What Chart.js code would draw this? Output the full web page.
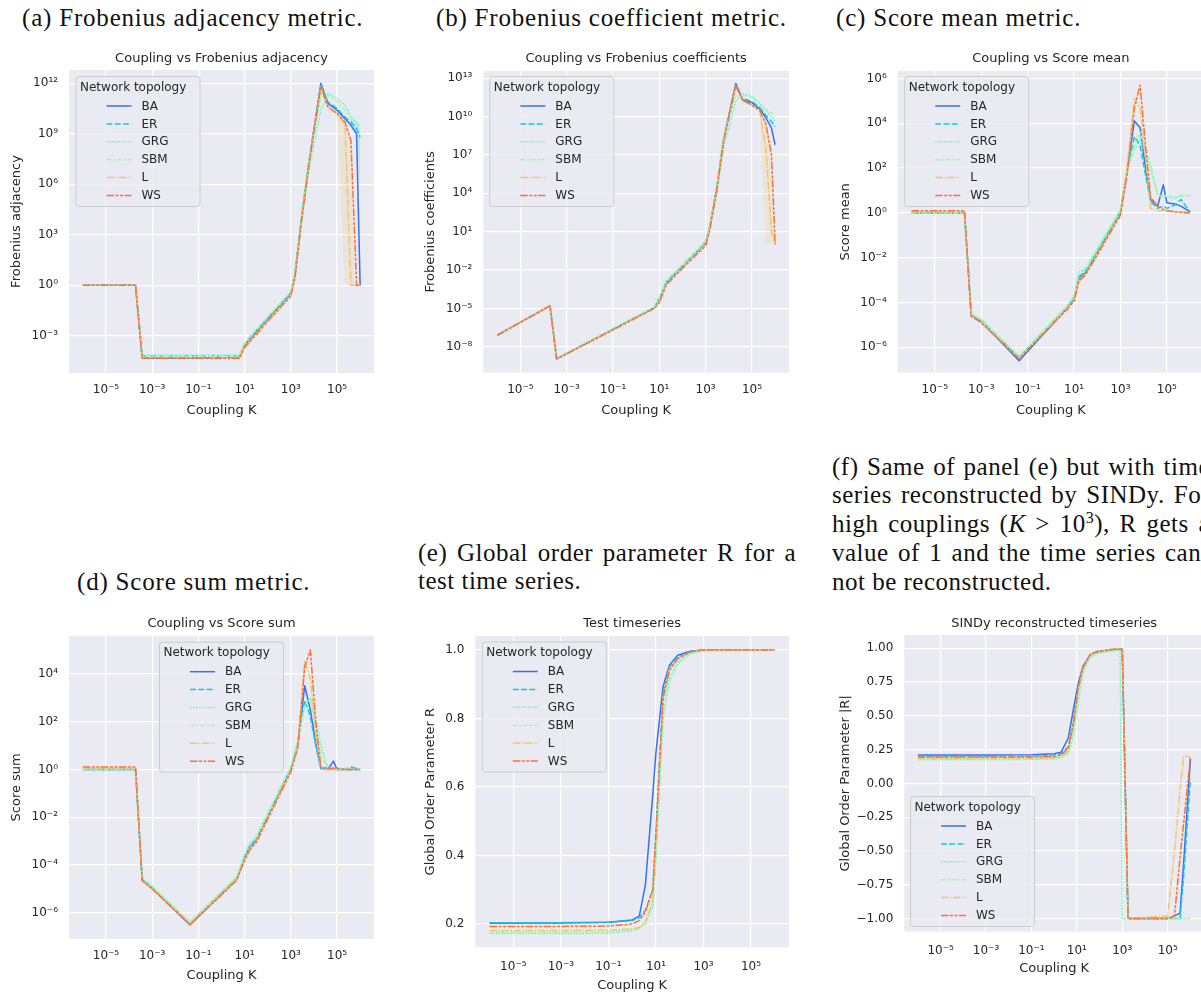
<!DOCTYPE html>
<html>
<head>
<meta charset="utf-8">
<script src="https://cdn.jsdelivr.net/npm/chart.js@4.4.1/dist/chart.umd.min.js"></script>
<style>
  html, body { margin: 0; padding: 0; background: #fff; }
  body { position: relative; width: 1201px; height: 992px; overflow: hidden; }
  canvas { position: absolute; }
  .cap { position: absolute; font-family: "Liberation Serif", serif; font-size: 25px; letter-spacing: 0.8px; line-height: 28.8px; color: #111; white-space: nowrap; }
  .just { display: inline-block; letter-spacing: 0.5px; }
  .cap i { font-style: italic; }
  .cap sup { font-size: 16px; line-height: 0; vertical-align: 9px; }
</style>
</head>
<body>
<div class="cap" style="left:22px; top:3.6px">(a) Frobenius adjacency metric.</div>
<div class="cap" style="left:436px; top:3.6px">(b) Frobenius coefficient metric.</div>
<div class="cap" style="left:836px; top:3.6px">(c) Score mean metric.</div>
<div class="cap just" style="left:832px; top:452.6px">(f) Same of panel (e) but with time</div>
<div class="cap just" style="left:832px; top:481.4px">series reconstructed by SINDy. For</div>
<div class="cap just" style="left:832px; top:510.2px">high couplings (<i>K</i> &gt; 10<sup>3</sup>), R gets a</div>
<div class="cap just" style="left:832px; top:539px">value of 1 and the time series can-</div>
<div class="cap" style="left:832px; top:567.8px; letter-spacing:0.5px">not be reconstructed.</div>
<div class="cap just" style="left:418px; top:538.6px">(e) Global order parameter R for a</div>
<div class="cap" style="left:418px; top:567.4px; letter-spacing:0.5px">test time series.</div>
<div class="cap" style="left:77px; top:567.6px">(d) Score sum metric.</div>

<script>
const INK = '#262626';
const FACE = '#eaeaf2';
const CAPTION_WIDTH = 378;

const SERIES = ['BA', 'ER', 'GRG', 'SBM', 'L', 'WS'];
const COLORS = ['#376ff9', '#12c7e6', '#5bf9c7', '#a4f99f', '#edc76f', '#ff6f39'];
const DASHES = [[], [6, 2.25], [1.5, 1.5], [4.5, 1.9, 2.25, 1.9], [7.5, 1.5, 1.5, 1.5], [7.5, 1.5, 3, 1.5, 3, 1.5]];

// coupling values (x) per group of runs
const kFrob = [1e-6, 1.9e-4, 3.7e-4, 6, 10, 20, 100, 1000, 1500, 3000, 6000, 2e4, 4e4, 1e5, 2.2e5, 4e5, 7e5, 1e6];
const kScore = [1e-6, 1.9e-4, 3.7e-4, 1e-3, 4.3e-2, 4.5, 10, 16, 32, 1000, 2000, 4000, 7000, 1.2e4, 2e4, 4e4, 7e4, 1e5, 2.2e5, 4e5, 1e6];
const kTest = [1e-6, 1e-3, 0.1, 1, 2, 3.6, 7.4, 10, 20, 37, 83, 300, 1000, 1e6];
const kSindy = [1e-6, 1e-3, 0.1, 1, 2, 4.2, 7, 11.5, 19, 38, 74, 290, 800, 1000, 1800, 1e5, 2e5, 3.5e5, 5e5, 1e6];

// log10 of the Frobenius norm of the adjacency error, rows BA ER GRG SBM L WS
const adjLog = [
  [0, 0, -4.35, -4.3, -3.6, -3.1, -2.0, -0.5, 0.6, 4.1, 7.2, 12.0, 10.8, 10.4, 9.9, 9.5, 9.0, 0],
  [0, 0, -4.2, -4.2, -3.5, -3.0, -1.95, -0.45, 0.7, 4.2, 7.3, 11.9, 10.9, 10.5, 10.0, 9.7, 9.3, 8.8],
  [0, 0, -4.15, -4.15, -3.45, -2.95, -1.9, -0.4, 0.6, 3.9, 6.8, 10.4, 11.4, 11.1, 10.7, 10.0, 9.7, 9.5],
  [0, 0, -4.2, -4.2, -3.5, -3.0, -1.9, -0.4, 0.7, 4.3, 7.5, 11.2, 11.3, 10.9, 10.4, 9.9, 9.6, 9.3],
  [0, 0, -4.3, -4.3, -3.65, -3.2, -2.1, -0.6, 0.5, 4.0, 7.2, 11.8, 10.6, 10.2, 9.5, 0, 0, 0],
  [0, 0, -4.35, -4.35, -3.7, -3.25, -2.15, -0.65, 0.4, 4.0, 7.1, 11.8, 10.6, 10.2, 9.7, 8.6, 0, 0],
];
const adjBands = [
  { series: 'L', k: [1e5, 2.2e5, 4e5, 5.5e5], lo: [10.0, 0, 0, 0], hi: [10.3, 9.8, 8.8, 0] },
  { series: 'ER', k: [4e5, 7e5, 1e6], lo: [9.5, 8.9, 6.0], hi: [9.9, 9.6, 9.3] },
];

// log10 of the Frobenius norm of the coefficient error
const coefLog = [
  [-7.1, -4.8, -8.95, -4.95, -4.3, -3.0, -1.7, 0.1, 1.3, 4.3, 8.2, 12.6, 11.3, 11.1, 10.6, 9.9, 9.1, 7.8],
  [-7.1, -4.8, -8.95, -4.95, -4.25, -2.9, -1.65, 0.2, 1.4, 4.4, 8.3, 12.5, 11.4, 11.2, 10.7, 10.1, 9.6, 9.2],
  [-7.1, -4.8, -8.9, -4.9, -4.1, -2.85, -1.6, 0.2, 1.3, 4.0, 7.6, 11.2, 11.8, 11.6, 11.0, 10.5, 10.0, 9.6],
  [-7.1, -4.8, -8.9, -4.9, -4.2, -2.9, -1.65, 0.2, 1.4, 4.5, 8.5, 11.6, 11.7, 11.5, 11.0, 10.6, 10.3, 10.2],
  [-7.1, -4.8, -8.95, -5.0, -4.5, -3.1, -1.8, 0.0, 1.2, 4.2, 8.1, 12.4, 11.2, 10.9, 10.4, 7.5, 1.0, 0.1],
  [-7.1, -4.8, -8.95, -5.0, -4.55, -3.15, -1.85, -0.1, 1.1, 4.2, 8.1, 12.4, 11.3, 10.9, 10.5, 9.4, 7.0, 0.0],
];
const coefBands = [
  { series: 'L', k: [2.2e5, 3e5, 4e5, 7e5, 1e6], lo: [10.2, 5, 0.1, 0.1, 0.1], hi: [10.5, 10.1, 9.6, 8, 0.5] },
];

// log10 of the mean score
const meanLog = [
  [0, 0, -4.6, -4.85, -6.6, -4.3, -3.85, -2.95, -2.65, 0.0, 2.0, 4.1, 3.8, 2.0, 0.6, 0.3, 1.25, 0.45, 0.4, 0.3, 0.05],
  [0, 0, -4.55, -4.8, -6.45, -4.25, -3.8, -2.85, -2.6, 0.05, 2.0, 3.4, 3.0, 1.7, 0.5, 0.2, 0.3, 0.2, 0.35, 0.6, 0.05],
  [0, 0, -4.5, -4.75, -6.4, -4.2, -3.7, -2.65, -2.45, 0.15, 2.0, 2.8, 3.3, 2.6, 1.9, 0.8, 0.75, 0.7, 0.65, 0.75, 0.8],
  [0, 0, -4.5, -4.75, -6.45, -4.2, -3.75, -2.75, -2.5, 0.1, 2.0, 3.0, 3.6, 2.8, 2.2, 0.8, 0.7, 0.8, 0.7, 0.8, 0.75],
  [0.05, 0.05, -4.6, -4.85, -6.5, -4.3, -3.9, -3.0, -2.7, -0.05, 2.2, 5.1, 4.7, 2.5, 0.2, 0.1, 0.1, 0.1, 0.05, 0.05, 0.0],
  [0.1, 0.1, -4.6, -4.9, -6.5, -4.35, -3.95, -3.05, -2.75, -0.1, 1.8, 4.7, 5.7, 3.0, 0.7, 0.3, 0.15, 0.1, 0.05, 0.02, 0.0],
];

// log10 of the summed score
const sumLog = [
  [0, 0, -4.65, -4.98, -6.5, -4.6, -3.7, -3.3, -2.95, 0.0, 1.0, 3.5, 2.5, 1.1, 0.05, 0.0, 0.35, 0.0, 0.0, 0.0, 0.0],
  [0, 0, -4.6, -4.95, -6.45, -4.55, -3.65, -3.25, -2.9, 0.05, 1.1, 2.9, 2.2, 1.0, 0.05, 0.0, 0.0, 0.0, 0.0, 0.1, 0.0],
  [0, 0, -4.55, -4.9, -6.4, -4.5, -3.55, -3.1, -2.8, 0.1, 1.2, 2.6, 3.0, 2.2, 1.0, 0.05, 0.05, 0.05, 0.05, 0.0, 0.0],
  [0, 0, -4.55, -4.9, -6.45, -4.5, -3.6, -3.15, -2.85, 0.1, 1.2, 2.7, 2.9, 1.8, 0.6, 0.05, 0.0, 0.0, 0.0, 0.0, 0.0],
  [0.05, 0.05, -4.65, -5.0, -6.45, -4.6, -3.75, -3.35, -3.0, -0.05, 1.0, 4.55, 3.8, 1.5, 0.0, 0.0, 0.0, 0.0, 0.0, 0.0, 0.0],
  [0.1, 0.1, -4.65, -5.0, -6.5, -4.65, -3.8, -3.4, -3.05, -0.1, 0.9, 4.3, 5.0, 2.0, 0.1, 0.05, 0.05, 0.05, 0.0, 0.0, 0.0],
];

// global order parameter R of the test series
const testR = [
  [0.202, 0.203, 0.205, 0.212, 0.223, 0.314, 0.58, 0.70, 0.893, 0.956, 0.985, 0.997, 1.0, 1.0],
  [0.204, 0.204, 0.205, 0.21, 0.218, 0.24, 0.30, 0.47, 0.87, 0.95, 0.98, 0.996, 1.0, 1.0],
  [0.172, 0.172, 0.173, 0.18, 0.188, 0.205, 0.25, 0.38, 0.80, 0.91, 0.96, 0.99, 0.998, 1.0],
  [0.176, 0.176, 0.177, 0.183, 0.19, 0.21, 0.26, 0.40, 0.82, 0.92, 0.965, 0.992, 0.999, 1.0],
  [0.181, 0.181, 0.182, 0.186, 0.19, 0.20, 0.27, 0.44, 0.86, 0.945, 0.975, 0.995, 1.0, 1.0],
  [0.193, 0.193, 0.194, 0.2, 0.21, 0.235, 0.30, 0.46, 0.86, 0.94, 0.975, 0.995, 1.0, 1.0],
];

// |R| of the SINDy reconstructed series
const sindyR = [
  [0.21, 0.21, 0.212, 0.22, 0.23, 0.336, 0.545, 0.74, 0.87, 0.95, 0.97, 0.985, 0.99, 0.99, -1, -1, -0.98, -0.96, -0.6, 0.18],
  [0.2, 0.2, 0.2, 0.21, 0.22, 0.27, 0.45, 0.7, 0.86, 0.95, 0.975, 0.99, 0.995, 0.995, -1, -1, -1, -1, -0.7, 0.03],
  [0.175, 0.175, 0.177, 0.18, 0.19, 0.22, 0.35, 0.6, 0.82, 0.93, 0.96, 0.98, 0.985, -1, -1, -1, -1, -1, -1, -1],
  [0.18, 0.18, 0.18, 0.185, 0.195, 0.23, 0.38, 0.65, 0.84, 0.94, 0.965, 0.98, 0.985, 0.985, -1, -1, -1, -1, -1, -1],
  [0.185, 0.185, 0.186, 0.19, 0.2, 0.24, 0.42, 0.7, 0.86, 0.95, 0.975, 0.99, 0.995, 0.995, -1, -0.98, -0.5, -0.05, 0.2, 0.2],
  [0.195, 0.195, 0.196, 0.2, 0.21, 0.26, 0.44, 0.71, 0.86, 0.95, 0.975, 0.99, 0.995, 0.995, -1, -1, -0.98, -0.55, -0.3, 0.19],
];

const xTicks = [1e-5, 1e-3, 1e-1, 1e1, 1e3, 1e5];

// stretch the inter-word gaps of the paragraph lines to the column width
document.querySelectorAll('.just').forEach(el => {
  const natural = el.getBoundingClientRect().width;
  const gaps = (el.textContent.match(/ /g) || []).length;
  if (gaps) el.style.wordSpacing = ((CAPTION_WIDTH - natural) / gaps) + 'px';
});

const SUP = { '-': '⁻', '0': '⁰', '1': '¹', '2': '²', '3': '³', '4': '⁴', '5': '⁵', '6': '⁶', '7': '⁷', '8': '⁸', '9': '⁹' };
const powLabel = v => '10' + String(Math.round(Math.log10(v))).split('').map(c => SUP[c]).join('');
const fixLabel = d => v => (v < 0 ? '\u2212' : '') + Math.abs(v).toFixed(d);

function withAlpha(hex, a) {
  const n = parseInt(hex.slice(1), 16);
  return `rgba(${n >> 16}, ${(n >> 8) & 255}, ${n & 255}, ${a})`;
}

Chart.defaults.font.family = "'DejaVu Sans', sans-serif";
Chart.defaults.color = INK;

// grey axes face like seaborn darkgrid
const facePlugin = {
  id: 'axesFace',
  beforeDraw(chart) {
    const { ctx, chartArea: a } = chart;
    ctx.save();
    ctx.fillStyle = FACE;
    ctx.fillRect(a.left, a.top, a.right - a.left, a.bottom - a.top);
    ctx.restore();
  }
};

// matplotlib-style legend box with a title
const topoLegend = {
  id: 'topoLegend',
  afterDatasetsDraw(chart, args, opts) {
    const { ctx, chartArea: a } = chart;
    const w = 124, h = 130;
    const x = a.left + opts.dx;
    const y = opts.fromBottom ? a.bottom - opts.dy - h : a.top + opts.dy;
    ctx.save();
    ctx.beginPath();
    ctx.roundRect(x + 0.5, y + 0.5, w, h, 3);
    ctx.fillStyle = 'rgba(234, 234, 242, 0.8)';
    ctx.fill();
    ctx.strokeStyle = '#cccccc';
    ctx.lineWidth = 1;
    ctx.stroke();
    ctx.fillStyle = INK;
    ctx.textBaseline = 'middle';
    ctx.font = "12px 'DejaVu Sans'";
    ctx.fillText('Network topology', x + 4.5, y + 11.5);
    SERIES.forEach((name, i) => {
      const ry = y + 30 + i * 17.9;
      ctx.beginPath();
      ctx.strokeStyle = COLORS[i];
      ctx.lineWidth = 1.5;
      ctx.setLineDash(DASHES[i]);
      ctx.moveTo(x + 31, ry);
      ctx.lineTo(x + 56, ry);
      ctx.stroke();
      ctx.setLineDash([]);
      ctx.fillText(name, x + 66, ry + 0.5);
    });
    ctx.restore();
  }
};

function lineSets(k, rows, log) {
  return rows.map((ys, i) => ({
    label: SERIES[i],
    data: k.map((x, j) => ({ x, y: log ? Math.pow(10, ys[j]) : ys[j] })),
    borderColor: COLORS[i],
    borderDash: DASHES[i],
    borderWidth: 1.5,
    borderJoinStyle: 'round',
    pointRadius: 0,
    tension: 0,
    fill: false,
    order: 10 - i,
  }));
}

function bandSets(bands) {
  const out = [];
  bands.forEach(b => {
    const col = COLORS[SERIES.indexOf(b.series)];
    out.push({ label: '', data: b.k.map((x, j) => ({ x, y: Math.pow(10, b.lo[j]) })),
      borderWidth: 0, pointRadius: 0, fill: false, order: 20 });
    out.push({ label: '', data: b.k.map((x, j) => ({ x, y: Math.pow(10, b.hi[j]) })),
      borderWidth: 0, pointRadius: 0, fill: '-1', backgroundColor: withAlpha(col, 0.2), order: 20 });
  });
  return out;
}

const PANELS = [
  { title: 'Coupling vs Frobenius adjacency', yLabel: 'Frobenius adjacency',
    left: 9, top: 51, width: 365, height: 367, yWidth: 60, xHeight: 45, titlePad: 3.4, xTickPad: 10,
    k: kFrob, rows: adjLog, log: true, bands: adjBands,
    yMin: Math.pow(10, -5.22), yMax: Math.pow(10, 12.79), yTicks: [1e-3, 1, 1e3, 1e6, 1e9, 1e12],
    legend: { dx: 6.5, dy: 6 } },
  { title: 'Coupling vs Frobenius coefficients', yLabel: 'Frobenius coefficients',
    left: 423, top: 51, width: 366, height: 367, yWidth: 60.3, xHeight: 45.3, titlePad: 4.4, xTickPad: 10,
    k: kFrob, rows: coefLog, log: true, bands: coefBands,
    yMin: Math.pow(10, -10.03), yMax: Math.pow(10, 13.57), yTicks: [1e-8, 1e-5, 1e-2, 1e1, 1e4, 1e7, 1e10, 1e13],
    legend: { dx: 6, dy: 5 } },
  { title: 'Coupling vs Score mean', yLabel: 'Score mean',
    left: 838, top: 51, width: 366, height: 367, yWidth: 59.7, xHeight: 45.3, titlePad: 4.4, xTickPad: 10,
    k: kScore, rows: meanLog, log: true, bands: [],
    yMin: Math.pow(10, -7.13), yMax: Math.pow(10, 6.33), yTicks: [1e-6, 1e-4, 1e-2, 1, 1e2, 1e4, 1e6],
    legend: { dx: 6.5, dy: 5 } },
  { title: 'Coupling vs Score sum', yLabel: 'Score sum',
    left: 9, top: 616, width: 365, height: 367, yWidth: 60, xHeight: 44, titlePad: 4.1, xTickPad: 9.5,
    k: kScore, rows: sumLog, log: true, bands: [],
    yMin: Math.pow(10, -7.1), yMax: Math.pow(10, 5.6), yTicks: [1e-6, 1e-4, 1e-2, 1, 1e2, 1e4],
    legend: { dx: 90, dy: 6 } },
  { title: 'Test timeseries', yLabel: 'Global Order Parameter R',
    left: 423, top: 616, width: 366, height: 377, yWidth: 52.3, xHeight: 45.7, titlePad: 4.4, xTickPad: 12,
    k: kTest, rows: testR, log: false, bands: [],
    yMin: 0.132, yMax: 1.041, yTicks: [0.2, 0.4, 0.6, 0.8, 1.0], yFmt: fixLabel(1),
    legend: { dx: 6.5, dy: 5.5 } },
  { title: 'SINDy reconstructed timeseries', yLabel: 'Global Order Parameter |R|',
    left: 838, top: 616, width: 366, height: 360, yWidth: 66.3, xHeight: 44.3, titlePad: 3.4, xTickPad: 12,
    k: kSindy, rows: sindyR, log: false, bands: [],
    yMin: -1.097, yMax: 1.098, yTicks: [-1, -0.75, -0.5, -0.25, 0, 0.25, 0.5, 0.75, 1], yFmt: fixLabel(2),
    legend: { dx: 5.7, dy: 5.7, fromBottom: true } },
];

const gridStyle = { color: '#ffffff', lineWidth: 1.2, drawTicks: false };

PANELS.forEach(p => {
  const canvas = document.createElement('canvas');
  canvas.width = p.width;
  canvas.height = p.height;
  canvas.style.left = p.left + 'px';
  canvas.style.top = p.top + 'px';
  document.body.appendChild(canvas);

  new Chart(canvas, {
    type: 'line',
    data: { datasets: [...lineSets(p.k, p.rows, p.log), ...bandSets(p.bands)] },
    options: {
      responsive: false,
      animation: false,
      events: [],
      layout: { padding: 0 },
      plugins: {
        legend: { display: false },
        tooltip: { enabled: false },
        title: {
          display: true, text: p.title, fullSize: false, color: INK,
          font: { size: 13, weight: 'normal' }, padding: { top: 0, bottom: p.titlePad },
        },
        topoLegend: p.legend,
      },
      scales: {
        x: {
          type: 'logarithmic',
          min: Math.pow(10, -6.6),
          max: Math.pow(10, 6.6),
          afterBuildTicks: s => {
            s.ticks = xTicks.map(v => ({ value: v }));
            s.min = Math.pow(10, -6.6);
            s.max = Math.pow(10, 6.6);
          },
          afterFit: s => { s.height = p.xHeight; s.paddingLeft = 0; s.paddingRight = 0; },
          grid: gridStyle,
          border: { display: false },
          ticks: { autoSkip: false, maxRotation: 0, padding: p.xTickPad, color: INK, font: { size: 12 }, callback: v => powLabel(v) },
          title: { display: true, text: 'Coupling K', color: INK, font: { size: 13 }, padding: 0 },
        },
        y: {
          type: p.log ? 'logarithmic' : 'linear',
          min: p.yMin,
          max: p.yMax,
          afterBuildTicks: s => {
            s.ticks = p.yTicks.map(v => ({ value: v }));
            s.min = p.yMin;
            s.max = p.yMax;
          },
          afterFit: s => { s.width = p.yWidth; s.paddingTop = 0; s.paddingBottom = 0; },
          grid: gridStyle,
          border: { display: false },
          ticks: { autoSkip: false, padding: 11, color: INK, font: { size: 12 }, callback: v => (p.log ? powLabel(v) : p.yFmt(v)) },
          title: { display: true, text: p.yLabel, color: INK, font: { size: 13 }, padding: 0 },
        },
      },
    },
    plugins: [facePlugin, topoLegend],
  });
});
</script>
</body>
</html>
